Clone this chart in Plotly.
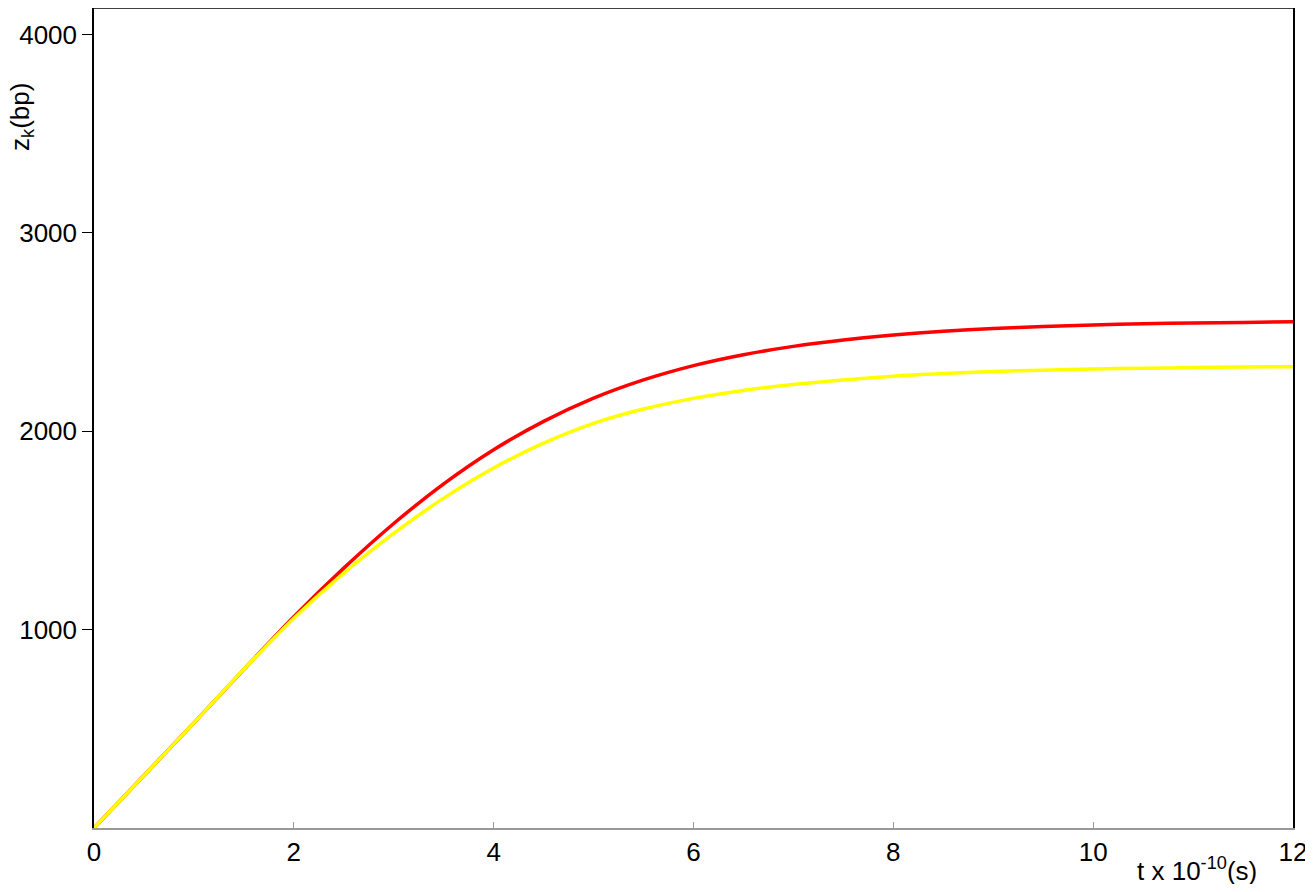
import plotly.graph_objects as go

t = [0, 0.5, 1, 1.5, 2, 2.5, 3, 3.5, 4, 4.5, 5, 5.5, 6, 6.5, 7, 7.5, 8, 8.5, 9, 9.5,
     10, 10.5, 11, 11.5, 12]
z_red = [0, 265, 530, 800, 1065, 1310, 1535, 1735, 1907, 2050, 2167, 2259, 2331,
         2386, 2428, 2460, 2485, 2504, 2518, 2528, 2536, 2542, 2546, 2549, 2552]
z_yellow = [0, 265, 530, 800, 1058, 1285, 1485, 1663, 1815, 1940, 2040, 2112, 2166,
            2206, 2236, 2259, 2278, 2291, 2301, 2308, 2314, 2318, 2321, 2324, 2326]

x_ticks = [0, 2, 4, 6, 8, 10, 12]
y_ticks = [1000, 2000, 3000, 4000]

font = "Liberation Sans, Arial, sans-serif"

fig = go.Figure()
fig.add_trace(go.Scatter(x=t, y=z_red, mode="lines",
                         line=dict(color="#ff0000", width=3.5, shape="spline", smoothing=0.8),
                         showlegend=False, hoverinfo="skip"))
fig.add_trace(go.Scatter(x=t, y=z_yellow, mode="lines",
                         line=dict(color="#ffff00", width=3.5, shape="spline", smoothing=0.8),
                         showlegend=False, hoverinfo="skip"))

# page body has an 8px margin, so the figure is placed at (8, 8)
fig.update_layout(
    width=1305, height=876,
    margin=dict(l=86, r=20, t=0, b=56),
    paper_bgcolor="white", plot_bgcolor="white",
    font=dict(family=font, size=26, color="black"),
    xaxis=dict(range=[0, 12], tickvals=x_ticks, ticks="inside", ticklen=6, tickcolor="#999999",
               showline=True, linecolor="#999999", linewidth=2, showgrid=False, zeroline=False,
               tickfont=dict(size=26), automargin=False),
    yaxis=dict(range=[0, 4134], tickvals=y_ticks, ticks="outside", ticklen=10, tickcolor="black",
               showline=True, linecolor="black", linewidth=1.5, mirror=True, showgrid=False,
               zeroline=False, tickfont=dict(size=26), automargin=False),
    shapes=[dict(type="line", xref="paper", yref="paper", x0=0, x1=1, y0=1, y1=1,
                 line=dict(color="black", width=1.5))],
    annotations=[
        dict(text="z<sub>k</sub>(bp)", textangle=-90, xref="paper", yref="paper",
             x=-0.061, y=0.867, xanchor="center", yanchor="middle", showarrow=False,
             font=dict(size=26)),
        dict(text="t x 10<sup>-10</sup>(s)", xref="paper", yref="paper",
             x=0.92, y=-0.0506, xanchor="center", yanchor="middle", showarrow=False,
             font=dict(size=26)),
    ],
)

fig.write_html("out.html")
